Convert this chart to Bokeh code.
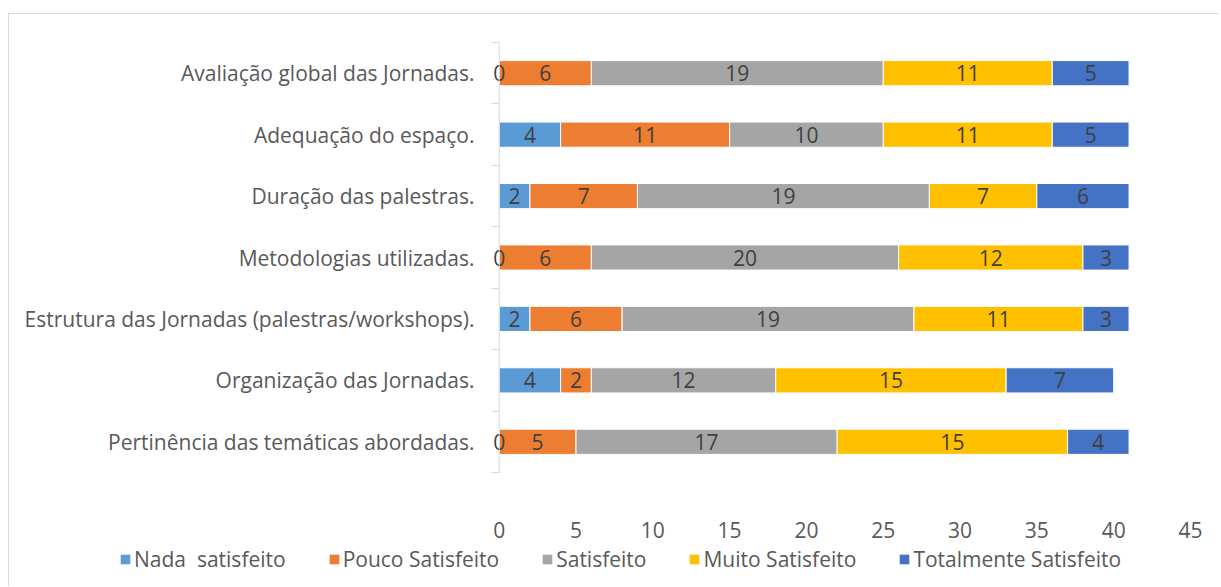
import numpy as np
from bokeh.plotting import figure
from bokeh.models import Range1d, FixedTicker, Legend, LegendItem, ColumnDataSource, Span
from bokeh.core.properties import value
from bokeh.embed import file_html
from bokeh.resources import INLINE

categories = [
    "Pertinência das temáticas abordadas.",
    "Organização das Jornadas.",
    "Estrutura das Jornadas (palestras/workshops).",
    "Metodologias utilizadas.",
    "Duração das palestras.",
    "Adequação do espaço.",
    "Avaliação global das Jornadas.",
]
series_names = ["Nada  satisfeito", "Pouco Satisfeito", "Satisfeito", "Muito Satisfeito", "Totalmente Satisfeito"]
nada = [0, 4, 2, 0, 2, 4, 0]
pouco = [5, 2, 6, 6, 7, 11, 6]
satisfeito = [17, 12, 19, 20, 19, 10, 19]
muito = [15, 15, 11, 12, 7, 11, 11]
totalmente = [4, 7, 3, 3, 6, 5, 5]
colors = ["#5B9BD5", "#ED7D31", "#A5A5A5", "#FFC000", "#4472C4"]
x_ticks = [0, 5, 10, 15, 20, 25, 30, 35, 40, 45]

FONT = "Open Sans"
TXT = "#595959"
FS = "21px"

series = [nada, pouco, satisfeito, muito, totalmente]
ypos = [i + 0.5 for i in range(len(categories))]

p = figure(width=1210, height=530, output_backend="svg", toolbar_location=None,
           x_range=Range1d(-0.5, 45), y_range=Range1d(0, len(categories)),
           min_border_left=482, min_border_right=29, min_border_top=28,
           min_border_bottom=72,
           styles={"margin-left": "8px", "margin-top": "13px",
                   "border-left": "1px solid #d9d9d9", "border-top": "1px solid #d9d9d9"})
p.outline_line_color = None
p.xgrid.grid_line_color = None
p.ygrid.grid_line_color = None
p.background_fill_color = None
p.border_fill_color = None

lp = figure(width=1210, height=43, output_backend="svg", toolbar_location=None,
            x_range=Range1d(0, 1), y_range=Range1d(0, 1), min_border=0,
            styles={"margin-left": "8px", "border-left": "1px solid #d9d9d9"})
lp.axis.visible = False
lp.grid.grid_line_color = None
lp.outline_line_color = None
lp.border_fill_color = None
lp.background_fill_color = None

sources = []
left = np.zeros(len(categories))
for vals, col in zip(series, colors):
    vals = np.array(vals, dtype=float)
    src = ColumnDataSource(dict(y=ypos, left=left, right=left + vals,
                                xc=left + vals / 2, lab=[str(int(v)) for v in vals]))
    p.hbar(y="y", left="left", right="right", height=0.41, source=src,
           fill_color=col, line_color="white", line_width=1)
    sources.append(src)
    left = left + vals

for src in sources:
    p.text(x="xc", y="y", text="lab", source=src, text_align="center",
           text_baseline="middle", text_font=value(FONT), text_font_size=FS,
           text_color="#404040")

# legend swatches (no visible data in the legend strip)
legend_items = []
for name, col in zip(series_names, colors):
    nan = np.array([np.nan])
    r = lp.hbar(y=nan, left=nan, right=nan, height=0.5, fill_color=col, line_color=None)
    legend_items.append(LegendItem(label=name, renderers=[r]))

# y axis line at x = 0
p.add_layout(Span(location=0, dimension="height", line_color="#d9d9d9", line_width=1))

# x axis
p.xaxis.ticker = FixedTicker(ticks=x_ticks)
p.xaxis.axis_line_color = None
p.xaxis.major_tick_line_color = None
p.xaxis.minor_tick_line_color = None
p.xaxis.major_label_standoff = 43
p.xaxis.major_label_text_font = FONT
p.xaxis.major_label_text_font_size = FS
p.xaxis.major_label_text_color = TXT

# y axis
p.yaxis.ticker = FixedTicker(ticks=ypos, minor_ticks=list(range(len(categories) + 1)))
p.yaxis.major_label_overrides = {y: c for y, c in zip(ypos, categories)}
p.yaxis.axis_line_color = None
p.yaxis.major_tick_line_color = None
p.yaxis.minor_tick_line_color = "#d9d9d9"
p.yaxis.minor_tick_out = 0
p.yaxis.minor_tick_in = 8
p.yaxis.major_label_standoff = 11
p.yaxis.major_label_text_font = FONT
p.yaxis.major_label_text_font_size = FS
p.yaxis.major_label_text_color = TXT

legend = Legend(items=legend_items, orientation="horizontal", location=(110, 13),
                label_text_font=FONT, label_text_font_size=FS, label_text_color=TXT,
                glyph_width=12, glyph_height=12, label_standoff=3, spacing=42,
                border_line_color=None, background_fill_alpha=0, padding=0, margin=0)
lp.add_layout(legend, "center")

open("out.html", "w").write(file_html([p, lp], INLINE))
